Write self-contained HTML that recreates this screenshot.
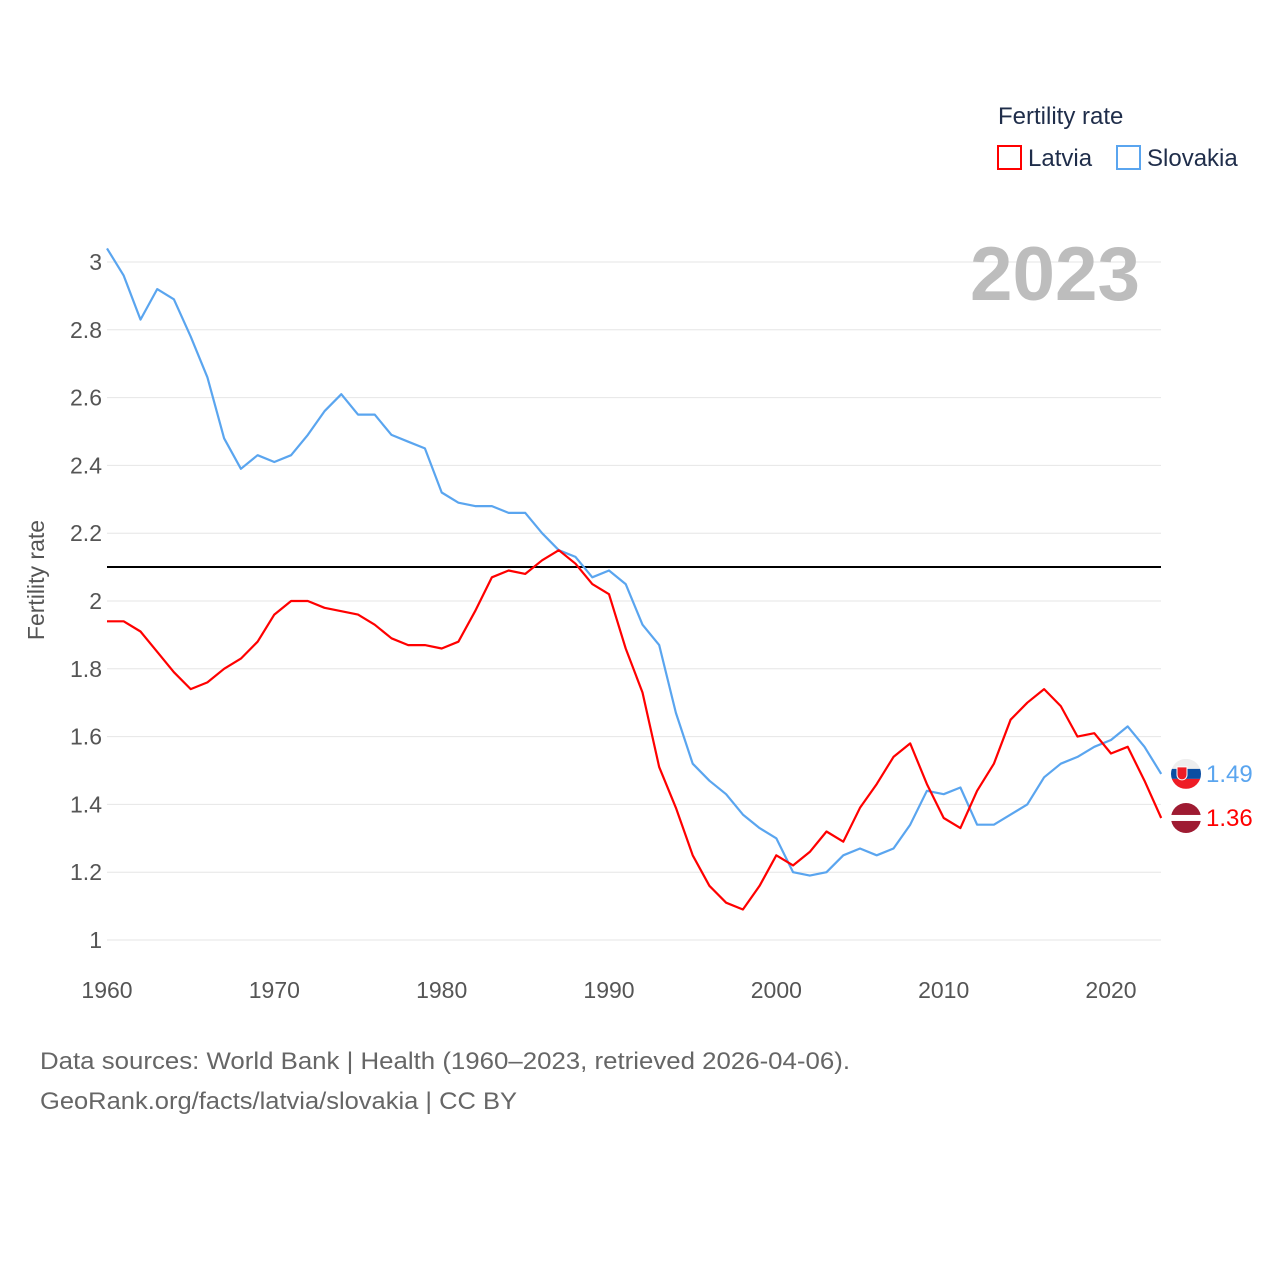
<!DOCTYPE html>
<html><head><meta charset="utf-8"><style>
body{margin:0;background:#fff;font-family:"Liberation Sans",sans-serif}
svg{display:block}
</style></head><body>
<svg width="1280" height="1280" viewBox="0 0 1280 1280">
<g id="grid"></g>
<g id="yticks"></g>
<g id="xticks"></g>
<line x1="107" x2="1161" y1="567" y2="567" stroke="#000" stroke-width="2"/>
<g id="lines"></g>
<text x="970" y="300" textLength="170" lengthAdjust="spacingAndGlyphs" font-size="76" font-weight="bold" fill="#bdbdbd">2023</text>
<text x="50" y="580" transform="rotate(-90 50 580)" text-anchor="middle" font-size="23" fill="#555" dy="-6">Fertility rate</text>
<text x="998" y="124" font-size="24" fill="#1f2d4a">Fertility rate</text>
<g><rect x="998" y="146" width="23" height="23" fill="none" stroke="#f00" stroke-width="2"/><text x="1028" y="166" font-size="24" fill="#1f2d4a">Latvia</text></g>
<g><rect x="1117" y="146" width="23" height="23" fill="none" stroke="#5aa5ef" stroke-width="2"/><text x="1147" y="166" font-size="24" fill="#1f2d4a">Slovakia</text></g>
<g id="ends"></g>
<text x="40" y="1069" textLength="810" lengthAdjust="spacingAndGlyphs" font-size="24" fill="#666">Data sources: World Bank | Health (1960–2023, retrieved 2026-04-06).</text>
<text x="40" y="1109" textLength="477" lengthAdjust="spacingAndGlyphs" font-size="24" fill="#666">GeoRank.org/facts/latvia/slovakia | CC BY</text>
</svg>
<script>
const years=[];for(let y=1960;y<=2023;y++)years.push(y);
const latvia=[1.94,1.94,1.91,1.85,1.79,1.74,1.76,1.80,1.83,1.88,1.96,2.00,2.00,1.98,1.97,1.96,1.93,1.89,1.87,1.87,1.86,1.88,1.97,2.07,2.09,2.08,2.12,2.15,2.11,2.05,2.02,1.86,1.73,1.51,1.39,1.25,1.16,1.11,1.09,1.16,1.25,1.22,1.26,1.32,1.29,1.39,1.46,1.54,1.58,1.46,1.36,1.33,1.44,1.52,1.65,1.70,1.74,1.69,1.60,1.61,1.55,1.57,1.47,1.36];
const slovakia=[3.04,2.96,2.83,2.92,2.89,2.78,2.66,2.48,2.39,2.43,2.41,2.43,2.49,2.56,2.61,2.55,2.55,2.49,2.47,2.45,2.32,2.29,2.28,2.28,2.26,2.26,2.20,2.15,2.13,2.07,2.09,2.05,1.93,1.87,1.67,1.52,1.47,1.43,1.37,1.33,1.30,1.20,1.19,1.20,1.25,1.27,1.25,1.27,1.34,1.44,1.43,1.45,1.34,1.34,1.37,1.40,1.48,1.52,1.54,1.57,1.59,1.63,1.57,1.49];
const yTicks=[1,1.2,1.4,1.6,1.8,2,2.2,2.4,2.6,2.8,3];
const xTicks=[1960,1970,1980,1990,2000,2010,2020];
const NS='http://www.w3.org/2000/svg';
const X=y=>107+(y-1960)*1004/60;
const Y=v=>940-(v-1)*339;
function mk(t,a,p){const e=document.createElementNS(NS,t);for(const k in a)e.setAttribute(k,a[k]);p.appendChild(e);return e;}
const grid=document.getElementById('grid'),yt=document.getElementById('yticks'),xt=document.getElementById('xticks');
yTicks.forEach(v=>{
 const l=mk('line',{x1:107,x2:1161,y1:Y(v),y2:Y(v),stroke:'#e6e6e6','stroke-width':1},grid);
 
 
 const t=mk('text',{x:102,y:Y(v)+8,'text-anchor':'end','font-size':23,fill:'#555'},yt);
 t.textContent=String(v);
 
 
});
xTicks.forEach(v=>{
 const t=mk('text',{x:X(v),y:998,'text-anchor':'middle','font-size':23,fill:'#555'},xt);
 t.textContent=v;
 
 
});
const lines=document.getElementById('lines');
[[slovakia,'#5aa5ef','slovakia-line'],[latvia,'#f00','latvia-line']].forEach(([d,c,n])=>{
 const p=mk('path',{d:d.map((v,i)=>(i?'L':'M')+X(years[i]).toFixed(1)+','+Y(v).toFixed(1)).join(''),fill:'none',stroke:c,'stroke-width':2.2,'stroke-linejoin':'round'},lines);
 
 
});
const ends=document.getElementById('ends');
const sv=slovakia[slovakia.length-1],lv=latvia[latvia.length-1];
let sy=Y(sv),ly=Y(lv);if(ly-sy<44){const m=(sy+ly)/2;sy=m-22;ly=m+22;}
let g=mk('g',{},ends);
mk('clipPath',{id:'c1'},g).appendChild(document.createElementNS(NS,'circle')).setAttribute('r',15);
const c1=g.querySelector('circle');c1.setAttribute('cx',1186);c1.setAttribute('cy',sy);
const f1=mk('g',{'clip-path':'url(#c1)'},g);
mk('rect',{x:1171,y:sy-15,width:30,height:10,fill:'#eee'},f1);mk('rect',{x:1171,y:sy-5,width:30,height:10,fill:'#0b4ea2'},f1);mk('rect',{x:1171,y:sy+5,width:30,height:10,fill:'#ee1c25'},f1);
mk('path',{d:`M1177,${sy-7}h10v8a5,5 0 0 1 -10,0z`,fill:'#ee1c25',stroke:'#fff','stroke-width':1},f1);
let t=mk('text',{x:1206,y:sy+8,'font-size':24,fill:'#5aa5ef'},ends);t.textContent=sv.toFixed(2);


g=mk('g',{},ends);
mk('circle',{cx:1186,cy:ly,r:15,fill:'#9e1b32'},g);
mk('rect',{x:1171,y:ly-3,width:30,height:6,fill:'#fff'},g);
t=mk('text',{x:1206,y:ly+8,'font-size':24,fill:'#f00'},ends);t.textContent=lv.toFixed(2);


</script>
</body></html>
